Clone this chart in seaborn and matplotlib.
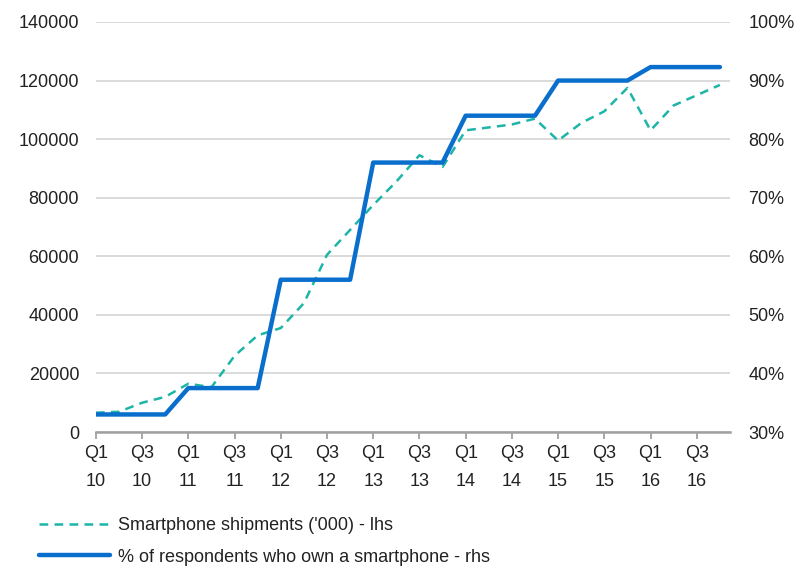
import matplotlib
matplotlib.use("Agg")
import pandas as pd
import matplotlib.pyplot as plt
import seaborn as sns
from matplotlib.ticker import FuncFormatter

# data
quarters = ["Q1 10", "Q2 10", "Q3 10", "Q4 10", "Q1 11", "Q2 11", "Q3 11", "Q4 11",
            "Q1 12", "Q2 12", "Q3 12", "Q4 12", "Q1 13", "Q2 13", "Q3 13", "Q4 13",
            "Q1 14", "Q2 14", "Q3 14", "Q4 14", "Q1 15", "Q2 15", "Q3 15", "Q4 15",
            "Q1 16", "Q2 16", "Q3 16", "Q4 16"]
shipments = [6600, 6900, 10000, 12000, 16500, 15300, 26000, 33000,
             35500, 44000, 60500, 69000, 77500, 85500, 94500, 90500,
             103000, 104000, 105000, 107000, 99500, 105500, 109500, 117500,
             103000, 111500, 115000, 118500]
ownership = [33, 33, 33, 33, 37.5, 37.5, 37.5, 37.5,
             56, 56, 56, 56, 76, 76, 76, 76,
             84, 84, 84, 84, 90, 90, 90, 90,
             92.3, 92.3, 92.3, 92.3]

label_ship = "Smartphone shipments ('000) - lhs"
label_own = "% of respondents who own a smartphone - rhs"

df = pd.DataFrame({"q": range(len(quarters)), "shipments": shipments, "ownership": ownership})

sns.set_theme(style="white")
plt.rcParams["font.family"] = ["Liberation Sans", "DejaVu Sans"]
txt = "#222222"

fig = plt.figure(figsize=(7.99, 5.68), dpi=100)
ax = fig.add_axes([0.120, 0.2394, 0.794, 0.7219])
ax2 = ax.twinx()

sns.lineplot(data=df, x="q", y="shipments", ax=ax, color="#1cb5a8",
             linewidth=1.8, linestyle=(0, (3.5, 2.5)), label=label_ship, legend=False)
sns.lineplot(data=df, x="q", y="ownership", ax=ax2, color="#0a6fcc",
             linewidth=3.2, label=label_own, legend=False)

ax.set_xlim(0, 27.45)
ax.set_ylim(0, 140000)
ax2.set_ylim(30, 100)
ax.set_yticks(range(0, 140001, 20000))
ax2.set_yticks(range(30, 101, 10))
ax2.yaxis.set_major_formatter(FuncFormatter(lambda v, p: f"{int(v)}%"))

ax.grid(axis="y", color="#d4d4d4", linewidth=1.2)
ax2.grid(False)
for a in (ax, ax2):
    for s in ("left", "right", "top", "bottom"):
        a.spines[s].set_visible(False)
ax.spines["bottom"].set_visible(True)
ax.spines["bottom"].set_color("#a0a0a0")
ax.spines["bottom"].set_linewidth(1.8)

xt = list(range(0, len(quarters), 2))
ax.set_xticks(xt)
ax.set_xticklabels([quarters[i].replace(" ", "\n") for i in xt], linespacing=1.85)
ax.tick_params(axis="x", bottom=True, length=5, width=1.3, color="#a0a0a0",
               labelsize=13, labelcolor=txt, pad=4)
ax.tick_params(axis="y", left=False, length=0, labelsize=13, labelcolor=txt, pad=12)
ax2.tick_params(axis="y", right=False, length=0, labelsize=13, labelcolor=txt, pad=13)

ax.set_xlabel("")
ax.set_ylabel("")
ax2.set_ylabel("")

h1, l1 = ax.get_legend_handles_labels()
h2, l2 = ax2.get_legend_handles_labels()
fig.legend(h1 + h2, l1 + l2, loc="upper left", bbox_to_anchor=(0.029, 0.118),
           frameon=False, fontsize=13, handlelength=3.9, handletextpad=0.45,
           labelspacing=0.8, labelcolor=txt)

fig.savefig("out.png", dpi=100)
